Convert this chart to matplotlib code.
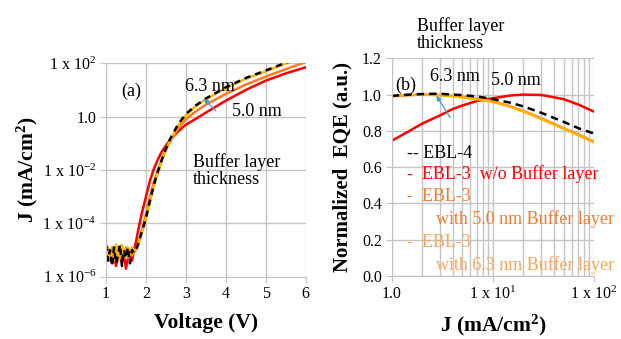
import numpy as np
import matplotlib
matplotlib.use('Agg')
import matplotlib.pyplot as plt
from matplotlib.ticker import FixedLocator, LogLocator, NullFormatter

plt.rcParams['font.family'] = ['Liberation Serif', 'DejaVu Serif']
plt.rcParams['mathtext.fontset'] = 'custom'
plt.rcParams['mathtext.rm'] = 'Liberation Serif'
plt.rcParams['mathtext.it'] = 'Liberation Serif:italic'
plt.rcParams['mathtext.bf'] = 'Liberation Serif:bold'

# ---------------- (a) J-V data, log10(J) ----------------
voltage = [1.00, 1.05, 1.10, 1.15, 1.20, 1.25, 1.30, 1.35, 1.40, 1.45, 1.50, 1.55, 1.60, 1.65, 1.70,
           1.75, 1.80, 1.85, 1.90, 2.00, 2.10, 2.20, 2.30, 2.40, 2.50, 2.60, 2.80, 3.00, 3.25, 3.50,
           4.00, 4.50, 5.00, 5.50, 6.00]
logj_ebl4 = [-4.8, -5.4, -5.0, -5.6, -4.9, -5.5, -5.2, -4.8, -5.6, -5.0, -5.3, -4.9, -5.5, -5.0, -5.1,
             -5.0, -4.8, -4.55, -4.3, -3.8, -3.15, -2.55, -2.05, -1.6, -1.2, -0.85, -0.3, 0.1, 0.42, 0.68,
             1.1, 1.45, 1.73, 2.02, 2.27]
logj_wo = [-5.0, -5.3, -5.1, -5.5, -5.2, -5.6, -5.3, -5.0, -5.5, -5.2, -5.7, -5.3, -5.1, -5.4, -5.0,
           -4.7, -4.3, -3.95, -3.6, -3.0, -2.4, -1.95, -1.6, -1.3, -1.08, -0.88, -0.56, -0.3, -0.08, 0.15,
           0.6, 1.0, 1.35, 1.62, 1.85]
logj_50 = [-5.2, -4.9, -5.3, -5.0, -5.4, -5.1, -4.9, -5.3, -5.0, -5.2, -4.9, -5.3, -5.0, -5.2, -5.1,
           -5.0, -4.8, -4.5, -4.25, -3.65, -3.0, -2.45, -2.0, -1.6, -1.25, -0.95, -0.45, -0.1, 0.2, 0.45,
           0.85, 1.2, 1.5, 1.78, 2.05]
logj_63 = [-4.9, -5.1, -5.4, -4.9, -5.2, -4.8, -5.3, -5.1, -4.8, -5.3, -5.0, -4.9, -5.2, -4.9, -5.0,
           -5.0, -4.85, -4.6, -4.35, -3.85, -3.2, -2.6, -2.1, -1.65, -1.25, -0.9, -0.35, 0.05, 0.4, 0.65,
           1.08, 1.42, 1.7, 2.0, 2.25]

# ---------------- (b) normalized EQE vs J ----------------
j_eqe = [1.0, 1.5, 2, 3, 4, 5, 7, 10, 15, 20, 30, 50, 70, 100]
eqe_ebl4 = [0.993, 1.0, 1.003, 1.005, 1.0, 0.997, 0.99, 0.975, 0.955, 0.935, 0.9, 0.85, 0.815, 0.785]
eqe_wo = [0.745, 0.80, 0.84, 0.885, 0.92, 0.94, 0.965, 0.98, 0.995, 1.0, 0.998, 0.975, 0.945, 0.906]
eqe_50 = [0.99, 0.997, 1.0, 0.998, 0.993, 0.987, 0.977, 0.963, 0.935, 0.91, 0.87, 0.815, 0.78, 0.74]
eqe_63 = [0.992, 0.999, 1.0, 0.997, 0.991, 0.985, 0.974, 0.96, 0.932, 0.907, 0.866, 0.812, 0.776, 0.737]

c_red = '#FF0000'
c_orange = '#FF7A1E'
c_yellow = '#FFB400'
c_txt50 = '#F47B2C'
c_txt63 = '#F9A655'
c_arrow = '#3A9AE0'
c_grid = '#C4C4C4'

fig = plt.figure(figsize=(6.21, 3.39), dpi=100)
ax1 = fig.add_axes([0.1707, 0.1838, 0.3216, 0.6295])
ax2 = fig.add_axes([0.6307, 0.1858, 0.3258, 0.6422])


def style_axes(ax):
    for s in ['top', 'right']:
        ax.spines[s].set_visible(False)
    for s in ['left', 'bottom']:
        ax.spines[s].set_color(c_grid)
    ax.tick_params(which='major', length=4, color=c_grid, labelsize=11.5, pad=3)
    ax.tick_params(which='minor', length=0)


# (a)
ax1.plot(voltage, 10 ** np.array(logj_wo), color=c_red, lw=1.8)
ax1.plot(voltage, 10 ** np.array(logj_50), color=c_orange, lw=1.8)
ax1.plot(voltage, 10 ** np.array(logj_63), color=c_yellow, lw=1.8)
ax1.plot(voltage, 10 ** np.array(logj_ebl4), color='black', lw=1.8, linestyle=(0, (2.5, 2)))
ax1.set_yscale('log')
ax1.set_xlim(1, 6)
ax1.set_ylim(1e-6, 1e2)
ax1.xaxis.set_major_locator(FixedLocator([1, 2, 3, 4, 5, 6]))
ax1.set_yticks([1e-6, 1e-4, 1e-2, 1, 1e2])
ax1.set_yticklabels([r'1 x 10$^{-6}$', r'1 x 10$^{-4}$', r'1 x 10$^{-2}$', '1.0', r'1 x 10$^{2}$'])
ax1.yaxis.set_minor_formatter(NullFormatter())
ax1.grid(True, which='major', color=c_grid, lw=1)
style_axes(ax1)
ax1.set_xlabel('Voltage (V)', fontsize=15.5, fontweight='bold')
ax1.set_ylabel(r'J (mA/cm$^{\mathbf{2}}$)', fontsize=15.5, fontweight='bold')
ax1.yaxis.set_label_coords(-0.33, 0.5)
ax1.xaxis.set_label_coords(0.5, -0.17)

ax1.text(1.64, 8.7, '(a)', fontsize=13, ha='center', va='center')
ax1.text(2.98, 13, '6.3 nm', fontsize=13, ha='left', va='center')
ax1.text(4.15, 1.55, '5.0 nm', fontsize=13, ha='left', va='center')
ax1.text(3.18, 0.0095, 'Buffer layer\nthickness', fontsize=13, ha='left', va='center', linespacing=1.05)
ax1.annotate('', xy=(3.40, 5.6), xytext=(3.80, 1.38),
             arrowprops=dict(arrowstyle='-|>', color=c_arrow, lw=0.9, mutation_scale=7))

# (b)
ax2.plot(j_eqe, eqe_wo, color=c_red, lw=1.8)
ax2.plot(j_eqe, eqe_50, color=c_orange, lw=1.8)
ax2.plot(j_eqe, eqe_63, color=c_yellow, lw=1.8)
ax2.plot(j_eqe, eqe_ebl4, color='black', lw=1.8, linestyle=(0, (3, 2)))
ax2.set_xscale('log')
ax2.set_xlim(1, 100)
ax2.set_ylim(0, 1.2)
ax2.set_yticks(np.arange(0, 1.21, 0.2))
ax2.set_yticklabels(['0.0', '0.2', '0.4', '0.6', '0.8', '1.0', '1.2'])
ax2.set_xticks([1, 10, 100])
ax2.set_xticklabels(['1.0', r'1 x 10$^{1}$', r'1 x 10$^{2}$'])
ax2.xaxis.set_minor_locator(LogLocator(base=10, subs=np.arange(2, 10)))
ax2.xaxis.set_minor_formatter(NullFormatter())
ax2.grid(True, which='both', axis='x', color=c_grid, lw=1)
ax2.grid(True, which='major', axis='y', color=c_grid, lw=1)
style_axes(ax2)
ax2.set_xlabel(r'J (mA/cm$^{\mathbf{2}}$)', fontsize=15.5, fontweight='bold')
ax2.set_ylabel('Normalized  EQE (a.u.)', fontsize=15, fontweight='bold')
ax2.yaxis.set_label_coords(-0.195, 0.5)
ax2.xaxis.set_label_coords(0.5, -0.17)

ax2.text(1.39, 1.053, '(b)', fontsize=13, ha='center', va='center')
ax2.text(2.39, 1.10, '6.3 nm', fontsize=13, ha='left', va='center')
ax2.text(9.7, 1.08, '5.0 nm', fontsize=13, ha='left', va='center')
ax2.text(1.77, 1.33, 'Buffer layer\nthickness', fontsize=13, ha='left', va='center',
         linespacing=1.05, clip_on=False)
ax2.annotate('', xy=(2.68, 1.007), xytext=(3.92, 0.86),
             arrowprops=dict(arrowstyle='-|>', color=c_arrow, lw=0.9, mutation_scale=7))

ax2.text(1.41, 0.676, '-- EBL-4', fontsize=13, color='black', va='center', clip_on=False)
ax2.text(1.41, 0.562, '-  EBL-3  w/o Buffer layer', fontsize=13, color=c_red, va='center', clip_on=False)
ax2.text(1.41, 0.437, '-  EBL-3', fontsize=13, color=c_txt50, va='center', clip_on=False)
ax2.text(2.72, 0.313, 'with 5.0 nm Buffer layer', fontsize=13, color=c_txt50, va='center', clip_on=False)
ax2.text(1.41, 0.184, '-  EBL-3', fontsize=13, color=c_txt63, va='center', clip_on=False)
ax2.text(2.72, 0.061, 'with 6.3 nm Buffer layer', fontsize=13, color=c_txt63, va='center', clip_on=False)

fig.savefig('out.png', dpi=100)
